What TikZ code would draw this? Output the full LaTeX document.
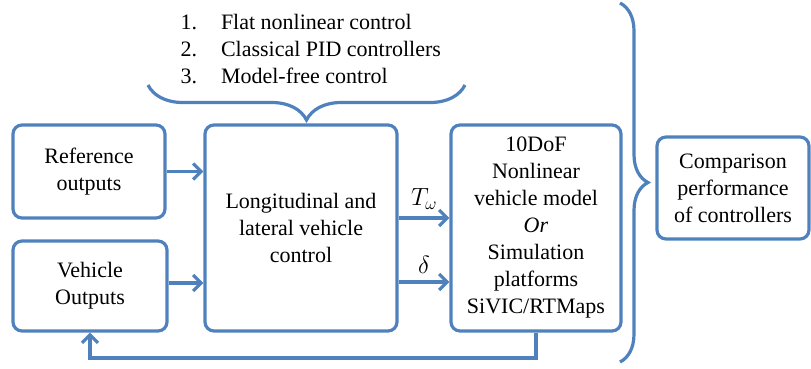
\documentclass[tikz,border=0pt]{standalone}
\usepackage{fontspec}
\setmainfont{Liberation Serif}
\newfontfamily\timesfont{Liberation Serif}
\usepackage{tikz}
\usetikzlibrary{arrows.meta,calc,decorations.pathreplacing}
\definecolor{blue1} {RGB} {79, 129, 189}
\tikzstyle{ctrlloop}=[
  x=1pt, y=1pt, >={Straight Barb[length=8pt,width=16pt]},
  font=\timesfont\fontsize{22}{27}\selectfont
]
\tikzstyle{loopbox}=[
  draw=blue1, line width=3.2pt, rounded corners=9pt, align=center, inner sep=0pt
]
\tikzstyle{loopedge}=[
  draw=blue1, line width=3.2pt
]
\tikzstyle{loopbrace}=[
  loopedge, decorate, decoration={brace, amplitude=#1, aspect=0.5}
]

\begin{document}
\begin{tikzpicture}[ctrlloop]
    \useasboundingbox (0,0) rectangle (811,368);

    \node (ctrl) [loopbox, minimum width=192pt, minimum height=206pt] at (301,140) {
        Longitudinal and\\lateral vehicle\\control
    };
    \node (model) [loopbox, minimum width=170pt, minimum height=206pt] at ($(ctrl) + (235, 0)$) {
        10DoF\\Nonlinear\\vehicle model\\\textit{Or}\\Simulation\\platforms\\SiVIC/RTMaps
    };
    \node (ref) [loopbox, minimum width=152pt, minimum height=93pt] at ($(ctrl) + (-212, 56.5)$) {
        Reference\\outputs
    };
    \node (veh) [loopbox, minimum width=154pt, minimum height=90pt] at ($(ctrl) + (-211, -58)$) {
        Vehicle\\Outputs
    };
    \node (comp) [loopbox, minimum width=152pt, minimum height=102pt] at ($(model) + (197, 40)$) {
        Comparison\\performance\\of controllers
    };
    \node (list) [anchor=base west] at (177,339) {
        \begin{tabular}[t]{@{}l@{\hspace{24pt}}l@{}}
        1. & Flat nonlinear control\\
        2. & Classical PID controllers\\
        3. & Model-free control
        \end{tabular}
    };

    \coordinate (fb) at (0,10);
    \coordinate (tw) at ($(ctrl.east) + (0, 10)$);
    \coordinate (dl) at ($(ctrl.east) + (0, -54)$);

    \draw [loopedge, ->] (ref.east) -- (ref.east -| ctrl.west);
    \draw [loopedge, ->] (veh.east |- 0,85) -- (ctrl.west |- 0,85);
    \draw [loopedge, ->] (tw) -- (tw -| model.west)
             node[midway, above=4pt] {\fontsize{26}{27}\selectfont$T_\omega$};
    \draw [loopedge, ->] (dl) -- (dl -| model.west)
             node[midway, above=4pt] {\fontsize{26}{27}\selectfont$\delta$};
    \draw [loopedge, ->] (model.south) |- (veh.south |- fb) -- (veh.south);

    % braces
    \draw [loopbrace=35pt] (465,283) -- (148,283);
    \draw [loopbrace=28pt] (620,365) -- (620,6);
\end{tikzpicture}
\end{document}
